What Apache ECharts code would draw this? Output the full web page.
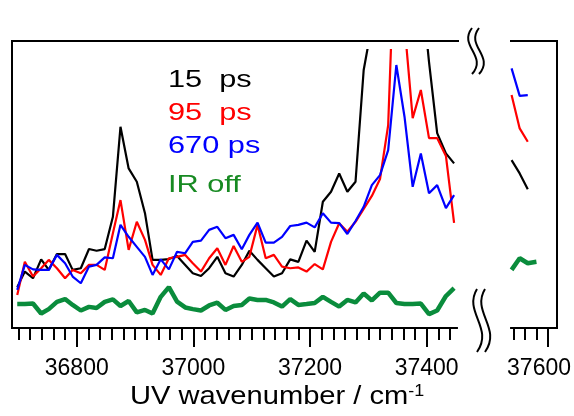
<!DOCTYPE html>
<html><head><meta charset="utf-8">
<script src="https://cdn.jsdelivr.net/npm/echarts@6/dist/echarts.min.js"></script>
<style>html,body{margin:0;padding:0;background:#fff}#chart{width:574px;height:416px}</style>
</head><body><div id="chart"></div>
<script>
// UV wavenumber grid (cm-1), one point per scan step
const wavenumbers = [36698, 36711, 36725, 36739, 36752, 36766, 36780, 36793, 36807, 36821,
  36834, 36848, 36862, 36875, 36889, 36903, 36917, 36930, 36944, 36958,
  36972, 36986, 36999, 37013, 37027, 37041, 37055, 37069, 37083, 37096,
  37110, 37124, 37138, 37152, 37166, 37180, 37194, 37208, 37222, 37236,
  37250, 37264, 37278, 37292, 37306, 37320, 37334, 37348, 37362, 37376,
  37390, 37404, 37418, 37433, 37447];
// signal (arb. units) for each delay
const ps15 = [14.7, 20.3, 17.9, 24.7, 20.9, 26.6, 26.6, 20.9, 21.5, 28.4,
  27.8, 28.4, 40.0, 72.4, 57.4, 52.6, 41.3, 24.5, 24.5, 24.8,
  25.9, 22.7, 19.7, 18.7, 21.5, 25.6, 19.7, 18.5, 22.7, 27.8,
  24.5, 21.5, 18.5, 19.7, 24.7, 23.8, 31.4, 27.4, 45.4, 49.0,
  55.6, 49.0, 52.6, 92.8, 109.0, 121.6, 132.4, 139.6, 136.0, 132.4,
  125.2, 95.7, 70.1, 62.8, 59.2];
const ps95 = [11.9, 23.8, 18.5, 21.5, 24.5, 21.5, 17.9, 20.9, 19.7, 22.7,
  22.7, 20.9, 34.1, 46.0, 28.1, 38.2, 31.7, 22.7, 19.1, 25.1,
  25.6, 26.3, 23.3, 20.3, 25.1, 28.7, 22.7, 29.5, 23.8, 25.6,
  37.1, 25.1, 26.3, 22.1, 21.5, 21.8, 20.3, 23.0, 21.1, 31.0,
  37.7, 34.6, 38.2, 42.8, 47.5, 53.6, 73.0, 154.0, 109.1, 75.5,
  85.6, 68.3, 68.3, 61.9, 37.8];
const ps670 = [13.7, 22.7, 21.1, 20.9, 20.9, 26.3, 23.3, 18.5, 16.1, 22.1,
  22.7, 25.4, 25.1, 37.1, 32.8, 29.2, 25.6, 19.1, 24.7, 21.1,
  27.4, 26.9, 31.0, 31.4, 35.3, 36.4, 32.3, 33.5, 28.3, 33.5,
  37.9, 30.7, 30.7, 32.8, 36.7, 37.1, 37.9, 36.2, 41.3, 37.9,
  37.7, 33.8, 38.5, 43.6, 51.4, 55.0, 64.0, 94.6, 76.0, 50.8,
  62.8, 48.5, 51.4, 43.1, 47.8];
const irOff = [8.6, 8.6, 8.8, 5.2, 6.8, 9.4, 10.4, 8.3, 6.3, 7.6,
  7.2, 9.4, 10.3, 7.9, 9.7, 5.6, 6.5, 5.2, 11.2, 14.7,
  9.5, 7.4, 6.8, 6.3, 8.1, 9.1, 6.5, 7.9, 8.3, 10.6,
  10.1, 10.1, 9.2, 7.7, 10.4, 8.3, 8.6, 9.0, 11.2, 9.4,
  7.7, 10.1, 9.2, 12.4, 9.9, 12.7, 12.7, 9.0, 8.6, 8.6,
  8.8, 5.0, 6.3, 11.5, 14.3];

// high-wavenumber segment beyond the axis break
const wavenumbersHigh = [37537, 37551, 37565, 37580];
const ps15High = [60.4, 55.6, 49.9];
const ps95High = [83.8, 71.8, 67.0];
const ps670High = [93.4, 83.5, 83.8];
const irOffHigh = [20.9, 25.1, 23.3, 23.8];

// tick marks
const majorTicksLow = [36800, 37000, 37200, 37400];
const majorTicksHigh = [37600];
const minorTicksHigh = [37540, 37560, 37580];
const minorTicksLow = [];
for (let w = 36700; w <= 37440; w += 20) {
  if (!majorTicksLow.includes(w)) minorTicksLow.push(w);
}

const seriesNames = ['15  ps', '95  ps', '670 ps', 'IR off'];
const lineColors = ['#000000', '#ff0000', '#0000ff', '#0a8c3c'];
const textColors = ['#000000', '#ff0000', '#0000ff', '#178a22'];
const lineWidths = [2.2, 2.2, 2.2, 4.5];

const lowSets = [ps15, ps95, ps670, irOff];
const highSets = [ps15High, ps95High, ps670High, irOffHigh];

const FONT = '"Liberation Sans", Arial, Helvetica, sans-serif';

function pairs(xs, ys) { return ys.map((v, i) => [xs[i], v]); }

function tickAxis(gridIndex, min, max, ticks, len, showLabel, labelPad) {
  return {
    type: 'value', gridIndex, min, max, position: 'bottom', offset: 0,
    axisLine: { show: true, onZero: false, lineStyle: { color: '#000', width: 2 } },
    axisTick: { show: true, inside: false, length: len, customValues: ticks,
      lineStyle: { color: '#000', width: 2 } },
    axisLabel: { show: showLabel, customValues: ticks, margin: 29,
      fontFamily: FONT, fontSize: 23, color: '#000',
      padding: labelPad || 0, formatter: v => String(v) },
    splitLine: { show: false }, minorTick: { show: false }
  };
}

const series = [];
lowSets.forEach((d, k) => {
  series.push({ name: seriesNames[k], type: 'line', xAxisIndex: 0, yAxisIndex: 0,
    data: pairs(wavenumbers, d), symbol: 'none', clip: true, z: 2 + k,
    lineStyle: { color: lineColors[k], width: lineWidths[k] }, animation: false });
});
highSets.forEach((d, k) => {
  series.push({ name: seriesNames[k], type: 'line', xAxisIndex: 2, yAxisIndex: 1,
    data: pairs(wavenumbersHigh, d), symbol: 'none', clip: true, z: 2 + k,
    lineStyle: { color: lineColors[k], width: lineWidths[k] }, animation: false });
});

const black = { stroke: '#000', lineWidth: 2 };
const graphic = [
  // frame
  { type: 'line', shape: { x1: 12, y1: 40, x2: 12, y2: 329 }, style: black, z: 50 },
  { type: 'line', shape: { x1: 11, y1: 41, x2: 459, y2: 41 }, style: black, z: 50 },
  { type: 'line', shape: { x1: 510, y1: 41, x2: 558, y2: 41 }, style: black, z: 50 },
  { type: 'line', shape: { x1: 557, y1: 40, x2: 557, y2: 329 }, style: black, z: 50 },
  // axis-break marks
  { type: 'bezierCurve', shape: { x1: 472, y1: 28, cpx1: 458, cpy1: 46, cpx2: 488, cpy2: 56, x2: 472, y2: 74 },
    style: Object.assign({ fill: null }, black), z: 50 },
  { type: 'bezierCurve', shape: { x1: 479, y1: 28, cpx1: 465, cpy1: 46, cpx2: 495, cpy2: 56, x2: 479, y2: 74 },
    style: Object.assign({ fill: null }, black), z: 50 },
  { type: 'bezierCurve', shape: { x1: 477, y1: 289, cpx1: 463, cpy1: 312, cpx2: 494, cpy2: 328, x2: 477, y2: 352 },
    style: Object.assign({ fill: null }, black), z: 50 },
  { type: 'bezierCurve', shape: { x1: 485, y1: 289, cpx1: 471, cpy1: 312, cpx2: 502, cpy2: 328, x2: 485, y2: 352 },
    style: Object.assign({ fill: null }, black), z: 50 },
  // axis title
  { type: 'text', x: 130, y: 384, scaleX: 1.12, z: 50,
    style: { text: 'UV wavenumber / cm{sup|-1}', font: '26px ' + FONT, fill: '#000', verticalAlign: 'top',
      rich: { sup: { fontSize: 16, fontFamily: FONT, verticalAlign: 'top', fill: '#000' } } } }
];
// series legend as coloured text
const legendTops = [68, 101, 134, 173];
seriesNames.forEach((n, k) => {
  graphic.push({ type: 'text', x: 168, y: legendTops[k], scaleX: 1.28, z: 50,
    style: { text: n, font: '24px ' + FONT, fill: textColors[k], verticalAlign: 'top' } });
});

const chart = echarts.init(document.getElementById('chart'), null, { renderer: 'canvas' });
chart.setOption({
  animation: false,
  backgroundColor: '#fff',
  grid: [
    { left: 12, right: 117, top: 50, bottom: 88 },
    { left: 511, right: 17, top: 50, bottom: 88 }
  ],
  xAxis: [
    tickAxis(0, 36689, 37452, majorTicksLow, 19, true),
    tickAxis(0, 36689, 37452, minorTicksLow, 12, false),
    tickAxis(1, 37536, 37615, majorTicksHigh, 19, true, [0, 18, 0, 0]),
    tickAxis(1, 37536, 37615, minorTicksHigh, 12, false)
  ],
  yAxis: [
    { type: 'value', gridIndex: 0, min: 0, max: 100, show: false },
    { type: 'value', gridIndex: 1, min: 0, max: 100, show: false }
  ],
  series,
  graphic
});
</script></body></html>
